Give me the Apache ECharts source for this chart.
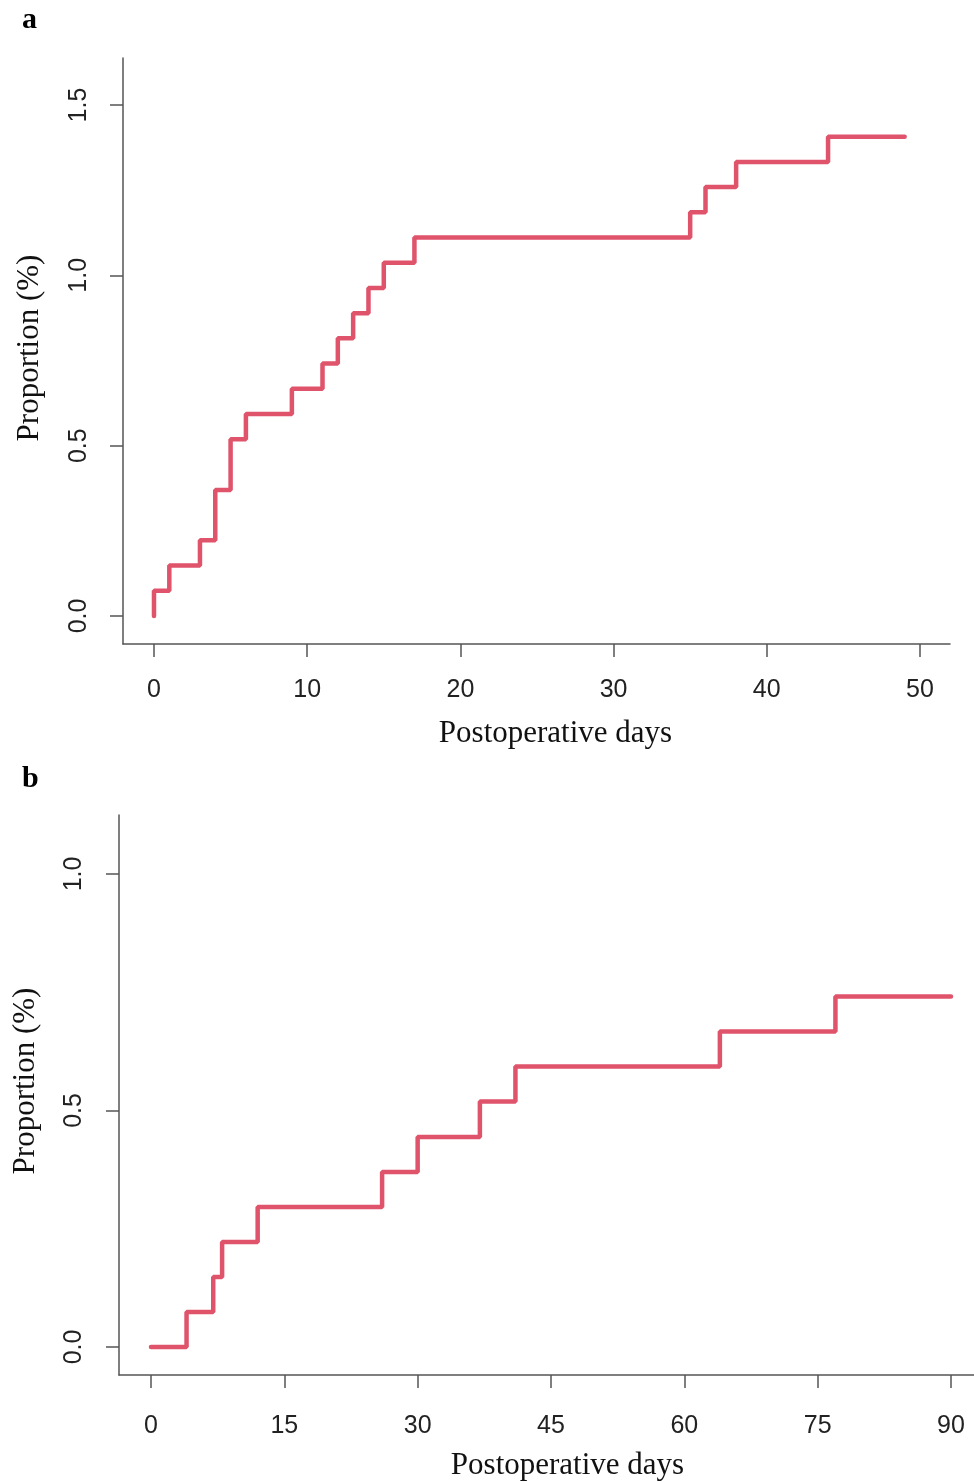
<!DOCTYPE html>
<html>
<head>
<meta charset="utf-8">
<script src="https://cdn.jsdelivr.net/npm/echarts@6/dist/echarts.min.js"></script>
<style>html,body{margin:0;padding:0;background:#fff}#c{width:974px;height:1482px}</style>
</head>
<body>
<div id="c"></div>
<script>
// Panel a
const daysA = [0, 0, 1, 3, 4, 5, 6, 9, 11, 12, 13, 14, 15, 17, 35, 36, 38, 44, 49];
const propA = [0, 0.074, 0.148, 0.222, 0.370, 0.519, 0.593, 0.667, 0.741, 0.815, 0.889, 0.963, 1.037, 1.111, 1.185, 1.259, 1.333, 1.407, 1.407];
const xTicksA = [0, 10, 20, 30, 40, 50];
const yTicksA = [0, 0.5, 1.0, 1.5];
// Panel b
const daysB = [0, 4, 7, 8, 12, 26, 30, 37, 41, 64, 77, 90];
const propB = [0, 0.074, 0.148, 0.222, 0.296, 0.370, 0.444, 0.519, 0.593, 0.667, 0.741, 0.741];
const xTicksB = [0, 15, 30, 45, 60, 75, 90];
const yTicksB = [0, 0.5, 1.0];
const xTitle = 'Postoperative days';
const yTitle = 'Proportion (%)';

const axisCol = '#555';
const lineCol = '#DF536B';
const sans = 'Liberation Sans, Arial, sans-serif';
const serif = 'Liberation Serif, Times New Roman, serif';

function xAxis(gridIndex, min, max, ticks, margin, gap, shift) {
  return {
    type: 'value', gridIndex, min, max,
    axisLine: {show: true, onZero: false, lineStyle: {color: axisCol, width: 1.5}},
    axisTick: {show: true, length: 13, customValues: ticks, lineStyle: {color: axisCol, width: 1.5}},
    axisLabel: {customValues: ticks, margin, fontSize: 25, color: '#222', fontFamily: sans,
      formatter: v => String(v)},
    splitLine: {show: false},
    name: xTitle, nameLocation: 'middle', nameGap: gap,
    nameTextStyle: {fontSize: 31, color: '#111', fontFamily: serif, padding: [0, 0, 0, shift]}
  };
}
function yAxis(gridIndex, min, max, ticks, margin, gap, shift) {
  return {
    type: 'value', gridIndex, min, max,
    axisLine: {show: true, onZero: false, lineStyle: {color: axisCol, width: 1.5}},
    axisTick: {show: true, length: 13, customValues: ticks, lineStyle: {color: axisCol, width: 1.5}},
    axisLabel: {customValues: ticks, margin, rotate: 90, fontSize: 25, color: '#222', fontFamily: sans,
      formatter: v => v.toFixed(1)},
    splitLine: {show: false},
    name: yTitle, nameLocation: 'middle', nameGap: gap,
    nameTextStyle: {fontSize: 31, color: '#111', fontFamily: serif, padding: [0, 0, 0, shift]}
  };
}

const chart = echarts.init(document.getElementById('c'), null, {renderer: 'canvas'});
chart.setOption({
  animation: false,
  backgroundColor: '#fff',
  title: [
    {text: 'a', left: 17, top: 0, textStyle: {fontSize: 30, fontWeight: 'bold', fontFamily: serif, color: '#000'}},
    {text: 'b', left: 17, top: 759, textStyle: {fontSize: 30, fontWeight: 'bold', fontFamily: serif, color: '#000'}}
  ],
  grid: [
    {left: 123, top: 58, width: 827, height: 586},
    {left: 119, top: 815, width: 855, height: 560}
  ],
  xAxis: [
    xAxis(0, -2.023, 51.96, xTicksA, 34, 74, 38),
    xAxis(1, -3.6, 92.59, xTicksB, 39, 75, 42)
  ],
  yAxis: [
    yAxis(0, -0.0822, 1.638, yTicksA, 31, 78, 6),
    yAxis(1, -0.0592, 1.1247, yTicksB, 32, 78, 28)
  ],
  series: [
    {type: 'line', xAxisIndex: 0, yAxisIndex: 0, step: 'end', showSymbol: false,
     data: daysA.map((d, i) => [d, propA[i]]),
     lineStyle: {color: lineCol, width: 4.5, cap: 'round'}},
    {type: 'line', xAxisIndex: 1, yAxisIndex: 1, step: 'end', showSymbol: false,
     data: daysB.map((d, i) => [d, propB[i]]),
     lineStyle: {color: lineCol, width: 4.5, cap: 'round'}}
  ]
});
</script>
</body>
</html>
